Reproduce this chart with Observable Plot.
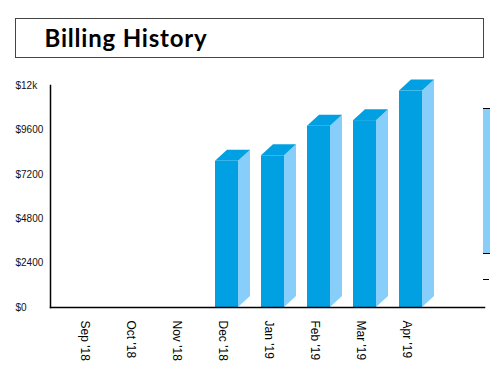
<!DOCTYPE html>
<html><head><meta charset="utf-8">
<script src="https://cdn.jsdelivr.net/npm/d3@7"></script>
<script src="https://cdn.jsdelivr.net/npm/@observablehq/plot@0.6"></script>
<style>
html,body{margin:0;padding:0;background:#fff}
body{width:490px;height:378px;position:relative;overflow:hidden;font-family:"Liberation Sans",Arial,sans-serif}
#chart{position:absolute;left:0;top:0}
#title{position:absolute;left:15px;top:18px;width:466.5px;height:37.5px;border:1.5px solid #444;background:#fff}
#title h1{margin:0;position:absolute;left:28.5px;top:3.5px;font:700 24px/30px Lato,"Open Sans",sans-serif;color:#000;letter-spacing:0.8px}
#side{position:absolute;left:483px;top:107.5px;width:7px;height:144px;background:#87cefa;border-top:1.5px solid #000;border-bottom:1.5px solid #000}
#tick{position:absolute;left:483px;top:278.5px;width:6px;height:1.5px;background:#000}
</style></head>
<body>
<div id="chart"></div>
<div id="title"><h1>Billing History</h1></div>
<div id="side"></div><div id="tick"></div>
<script>
const months = ["Sep '18", "Oct '18", "Nov '18", "Dec '18", "Jan '19", "Feb '19", "Mar '19", "Apr '19"];
const amounts = [null, null, null, 7900, 8200, 9800, 10100, 11700];
const yTicks = [0, 2400, 4800, 7200, 9600, 12000];
const yTickLabels = ["$0", "$2400", "$4800", "$7200", "$9600", "$12k"];

const rows = months.map((m, i) => ({month: m, amount: amounts[i]}));
const bars = rows.filter(d => d.amount != null);

const FRONT = "#00a0e3", SIDE = "#87cefa";
const DEPTH_X = 12, DEPTH_Y = 11;

function depthFaces(index, scales) {
  const x = scales.x, y = scales.y;
  const bw = x.bandwidth ? x.bandwidth() : 23.4;
  const g = d3.create("svg:g");
  for (const d of bars) {
    const x0 = x(d.month), x1 = x0 + bw, yb = y(0), yt = y(d.amount);
    g.append("path").attr("fill", SIDE)
      .attr("d", `M${x1},${yt}L${x1 + DEPTH_X},${yt - DEPTH_Y}L${x1 + DEPTH_X},${yb - DEPTH_Y}L${x1},${yb}Z`);
    g.append("path").attr("fill", FRONT)
      .attr("d", `M${x0},${yt}L${x0 + DEPTH_X},${yt - DEPTH_Y}L${x1 + DEPTH_X},${yt - DEPTH_Y}L${x1},${yt}Z`);
  }
  return g.node();
}

const chart = Plot.plot({
  width: 490,
  height: 378,
  marginTop: 85,
  marginBottom: 71,
  marginLeft: 50,
  marginRight: 6,
  style: {fontFamily: "'Liberation Sans', Arial, sans-serif", fontSize: "10px", color: "#000", background: "transparent"},
  x: {type: "band", domain: months, range: [61.5, 436.5], paddingInner: 0.5, paddingOuter: 0.25},
  y: {domain: [0, 12000]},
  marks: [
    Plot.barY(bars, {x: "month", y: "amount", fill: FRONT}),
    depthFaces,
    Plot.frame({anchor: "left", stroke: "#000", strokeWidth: 1.5}),
    Plot.frame({anchor: "bottom", stroke: "#000", strokeWidth: 1.5}),
    Plot.axisY({ticks: yTicks, tickFormat: (d) => yTickLabels[yTicks.indexOf(d)], tickSize: 0, tickPadding: 35, textAnchor: "start", label: null, fill: "#111"}),
    Plot.axisX({tickRotate: 90, tickSize: 0, tickPadding: 13, dx: -4, fontSize: 12, label: null, fill: "#000"})
  ]
});
document.getElementById("chart").append(chart);
</script>
</body></html>
